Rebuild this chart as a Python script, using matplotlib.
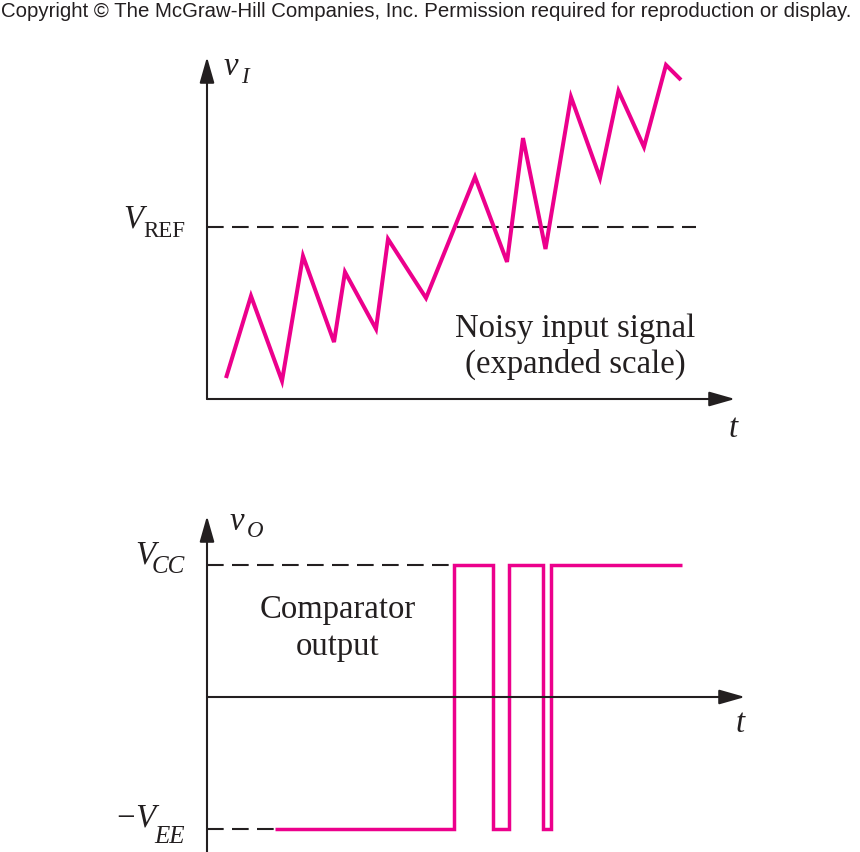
import matplotlib
matplotlib.use("Agg")
import matplotlib.pyplot as plt

plt.rcParams['lines.scale_dashes'] = False

# ---- data ----
t_in = [4.0, 9.26, 15.79, 20.21, 26.74, 29.05, 35.58, 38.11, 46.11, 56.42,
        63.16, 66.53, 71.26, 76.63, 82.74, 86.63, 92.0, 96.63, 99.79]
v_in = [0.122, 0.599, 0.105, 0.831, 0.331, 0.738, 0.407, 0.930, 0.587, 1.291,
        0.797, 1.517, 0.872, 1.756, 1.285, 1.791, 1.465, 1.942, 1.855]
V_REF = 1.0
t_ref_end = 102.9

t_out = [14.3, 52.1, 60.2, 63.5, 70.7, 72.5, 100.0]
v_out = [-1, 1, -1, 1, -1, 1, 1]
V_CC = 1.0
V_EE = 1.0

MAG = '#EC008C'
INK = '#231F20'
W, H = 860, 853
fig = plt.figure(figsize=(W / 100, H / 100), dpi=100)

def fx(px):
    return px / W

def fy(py):
    return 1 - py / H

def axes_px(left, top, right, bottom):
    return fig.add_axes([fx(left), fy(bottom), (right - left) / W, (bottom - top) / H])

arrow = dict(arrowstyle='-|>,head_length=1.58,head_width=0.45', mutation_scale=10,
             lw=1.5, color=INK, shrinkA=0, shrinkB=0)

# ---- top panel ----
ax1 = axes_px(207, 55, 745, 400)
ax1.set_xlim(0, 538 / 4.75)
ax1.set_ylim(0, 345 / 172)
ax1.axis('off')
ax1.annotate('', xy=(528 / 4.75, 0), xytext=(0, 0), arrowprops=arrow, annotation_clip=False)
ax1.annotate('', xy=(0, 342 / 172), xytext=(0, 0), arrowprops=arrow, annotation_clip=False)
ax1.plot([0, t_ref_end], [V_REF, V_REF], color=INK, lw=1.5, dashes=(12, 6), clip_on=False)
ax1.plot(t_in, v_in, color=MAG, lw=2.9, solid_joinstyle='miter', solid_capstyle='butt', clip_on=False)

# ---- bottom panel ----
ax2 = axes_px(207, 515, 745, 853)
ax2.set_xlim(0, 538 / 4.75)
ax2.set_ylim((698 - 853) / 132, (698 - 515) / 132)
ax2.axis('off')
ax2.annotate('', xy=(538 / 4.75, 0), xytext=(0, 0), arrowprops=arrow, annotation_clip=False)
ax2.annotate('', xy=(0, (698 - 517) / 132), xytext=(0, (698 - 860) / 132), arrowprops=arrow,
             annotation_clip=False)
ax2.plot([0, t_out[1]], [V_CC, V_CC], color=INK, lw=1.5, dashes=(12, 6), clip_on=False)
ax2.plot([0, t_out[0]], [-V_EE, -V_EE], color=INK, lw=1.5, dashes=(12, 6), clip_on=False)
ax2.plot(t_out, v_out, color=MAG, lw=2.5, drawstyle='steps-post', solid_joinstyle='miter',
         solid_capstyle='butt', clip_on=False)

# ---- text ----
serif = 'Liberation Serif'
fs = 23.6
fss = 16.5

def txt(x, y, s, size=fs, style='normal', ha='left'):
    fig.text(fx(x), fy(y), s, family=serif, fontsize=size, style=style, color=INK,
             ha=ha, va='baseline')

fig.text(fx(1), fy(17), 'Copyright \u00a9 The McGraw-Hill Companies, Inc. Permission required for reproduction or display.',
         family='Liberation Sans', fontsize=14.7, color=INK, ha='left', va='baseline')

# top panel labels
txt(224, 75, 'v', style='italic')
txt(241, 83, 'I', size=fss, style='italic')
txt(143, 228, 'V', style='italic', ha='right')
txt(143, 237, 'REF', size=fss)
txt(733, 437, 't', style='italic', ha='center')
txt(575, 337, 'Noisy input signal', ha='center')
txt(575, 373, '(expanded scale)', ha='center')

# bottom panel labels
txt(230, 530, 'v', style='italic')
txt(247, 537, 'O', size=fss, style='italic')
txt(155, 563, 'V', style='italic', ha='right')
txt(152, 573, 'CC', size=18, style='italic')
txt(156, 827, '\u2212V', style='italic', ha='right')
txt(154, 843, 'EE', size=18, style='italic')
txt(740, 732, 't', style='italic', ha='center')
txt(338, 618, 'Comparator', ha='center')
txt(338, 655, 'output', ha='center')

fig.savefig('out.png', dpi=100)
